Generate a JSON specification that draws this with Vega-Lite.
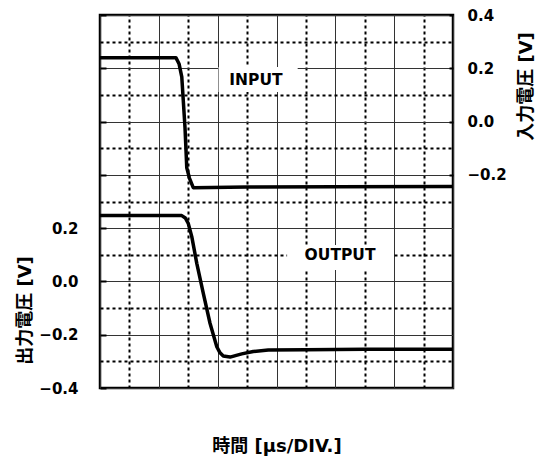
{
  "$schema": "https://vega.github.io/schema/vega-lite/v6.json",
  "width": 353,
  "height": 373,
  "autosize": {"type": "none"},
  "padding": {"left": 100, "top": 15, "right": 86, "bottom": 68},
  "background": "white",
  "config": {
    "view": {"stroke": "black", "strokeWidth": 2.5},
    "font": "DejaVu Sans, Noto Sans CJK JP",
    "axis": {
      "labelFont": "DejaVu Sans",
      "labelFontSize": 15,
      "labelFontWeight": "bold",
      "labelColor": "black",
      "titleFont": "DejaVu Sans, Noto Sans CJK JP",
      "titleFontSize": 18,
      "titleFontWeight": "bold",
      "titleColor": "black",
      "gridOpacity": 1
    }
  },
  "datasets": {
    "output": [
      {"t": 0, "v": 0.247}, {"t": 2.78, "v": 0.247}, {"t": 2.9, "v": 0.238},
      {"t": 3.0, "v": 0.218}, {"t": 3.12, "v": 0.168}, {"t": 3.29, "v": 0.068},
      {"t": 3.51, "v": -0.044}, {"t": 3.74, "v": -0.157}, {"t": 3.97, "v": -0.245},
      {"t": 4.08, "v": -0.268}, {"t": 4.19, "v": -0.28}, {"t": 4.42, "v": -0.284},
      {"t": 4.82, "v": -0.272}, {"t": 5.21, "v": -0.263}, {"t": 5.72, "v": -0.257},
      {"t": 7, "v": -0.256}, {"t": 9, "v": -0.255}, {"t": 12, "v": -0.255}
    ],
    "input": [
      {"t": 0, "v": 0.24}, {"t": 2.58, "v": 0.24}, {"t": 2.69, "v": 0.216},
      {"t": 2.78, "v": 0.168}, {"t": 2.89, "v": -0.024}, {"t": 2.95, "v": -0.174},
      {"t": 3.04, "v": -0.212}, {"t": 3.17, "v": -0.248}, {"t": 5, "v": -0.246},
      {"t": 8, "v": -0.245}, {"t": 12, "v": -0.244}
    ],
    "outLabel": [{"t": 8.16, "v": 0.1, "label": "OUTPUT"}],
    "inLabel": [{"t": 5.3, "v": 0.155, "label": "INPUT"}]
  },
  "layer": [
    {
      "layer": [
        {
          "data": {"name": "output"},
          "mark": {"type": "line", "color": "black", "strokeWidth": 3.5, "strokeJoin": "round"},
          "encoding": {
            "x": {
              "field": "t", "type": "quantitative",
              "scale": {"domain": [0, 12], "nice": false, "zero": false},
              "axis": {
                "orient": "bottom",
                "values": [0, 2, 4, 6, 8, 10, 12],
                "labels": false, "ticks": false, "domain": false,
                "grid": true, "gridColor": "#333", "gridWidth": 1,
                "title": "時間 [μs/DIV.]",
                "titlePadding": 49
              }
            },
            "y": {
              "field": "v", "type": "quantitative",
              "scale": {"domain": [-0.4, 1.0], "nice": false, "zero": false},
              "axis": {
                "orient": "left",
                "values": [-0.4, -0.2, 0, 0.2, 0.4, 0.6, 0.8, 1.0],
                "format": ".1f",
                "labelExpr": "datum.value < 0.25 ? datum.label : ''",
                "ticks": true,
                "tickSize": -6,
                "tickWidth": 2,
                "tickColor": "black",
                "labelPadding": 28,
                "domain": false,
                "grid": true, "gridColor": "#333", "gridWidth": 1,
                "title": "出力電圧 [V]",
                "titleAngle": 270,
                "titleAlign": "center",
                "titleBaseline": "middle",
                "titleX": -75,
                "titleY": 295
              }
            }
          }
        },
        {
          "data": {"name": "outLabel"},
          "mark": {"type": "rect", "color": "white"},
          "encoding": {
            "x": {"datum": 6.36, "type": "quantitative"},
            "x2": {"datum": 9.93},
            "y": {"datum": 0.137, "type": "quantitative"},
            "y2": {"datum": 0.043}
          }
        }
      ]
    },
    {
      "layer": [
        {
          "data": {"name": "input"},
          "mark": {"type": "line", "color": "black", "strokeWidth": 3.5, "strokeJoin": "round"},
          "encoding": {
            "x": {
              "field": "t", "type": "quantitative",
              "scale": {"domain": [0, 12], "nice": false, "zero": false},
              "axis": {
                "orient": "top",
                "values": [1, 3, 5, 7, 9, 11],
                "labels": false, "ticks": false, "domain": false,
                "grid": true, "gridColor": "black", "gridWidth": 2, "gridDash": [3, 3],
                "title": null
              }
            },
            "y": {
              "field": "v", "type": "quantitative",
              "scale": {"domain": [-1.0, 0.4], "nice": false, "zero": false},
              "axis": {
                "orient": "right",
                "values": [-0.2, 0, 0.2, 0.4],
                "format": ".1f",
                "ticks": true,
                "tickSize": -4,
                "tickWidth": 2,
                "tickColor": "black",
                "labelPadding": 18,
                "domain": false,
                "grid": false,
                "title": "入力電圧 [V]",
                "titleAngle": 270,
                "titleAlign": "center",
                "titleBaseline": "middle",
                "titleX": 73,
                "titleY": 71
              }
            }
          }
        },
        {
          "data": {"name": "inLabel"},
          "mark": {"type": "rect", "color": "white"},
          "encoding": {
            "x": {"datum": 4.03, "type": "quantitative"},
            "x2": {"datum": 6.72},
            "y": {"datum": 0.205, "type": "quantitative"},
            "y2": {"datum": 0.111}
          }
        },
        {
          "data": {"name": "inLabel"},
          "mark": {"type": "text", "color": "black", "font": "DejaVu Sans", "fontSize": 15.5, "fontWeight": "bold", "align": "center", "baseline": "middle"},
          "encoding": {
            "x": {"field": "t", "type": "quantitative"},
            "y": {"field": "v", "type": "quantitative"},
            "text": {"field": "label"}
          }
        }
      ]
    },
    {
      "data": {"name": "outLabel"},
      "mark": {"type": "text", "color": "black", "font": "DejaVu Sans", "fontSize": 15.5, "fontWeight": "bold", "align": "center", "baseline": "middle"},
      "encoding": {
        "x": {
          "field": "t", "type": "quantitative",
          "scale": {"domain": [0, 12], "nice": false, "zero": false},
          "axis": null
        },
        "y": {
          "field": "v", "type": "quantitative",
          "scale": {"domain": [-0.4, 1.0], "nice": false, "zero": false},
          "axis": {
            "orient": "left",
            "values": [-0.3, -0.1, 0.1, 0.3, 0.5, 0.7, 0.9],
            "labels": false, "ticks": false, "domain": false,
            "grid": true, "gridColor": "black", "gridWidth": 2, "gridDash": [3, 3],
            "title": null
          }
        },
        "text": {"field": "label"}
      }
    }
  ],
  "resolve": {"scale": {"x": "independent", "y": "independent"}}
}
